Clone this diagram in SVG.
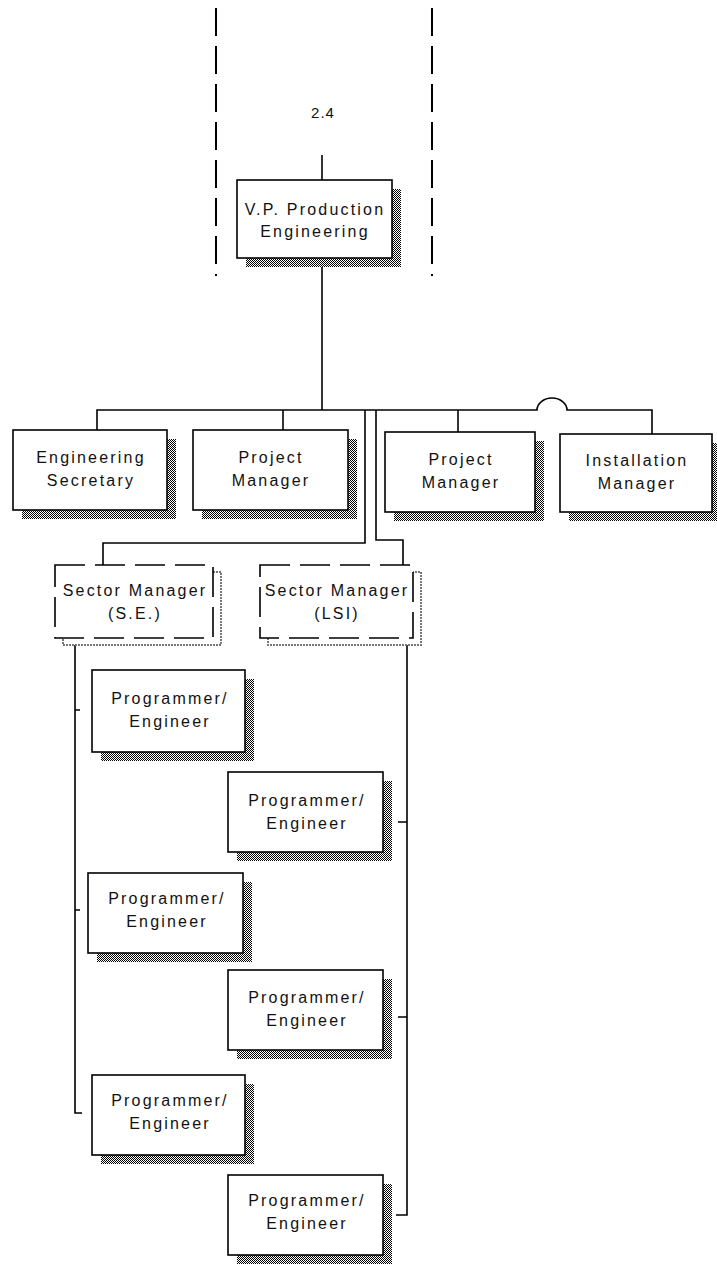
<svg xmlns="http://www.w3.org/2000/svg" width="717" height="1266" viewBox="0 0 717 1266">
<defs>
<pattern id="dither" width="2" height="2" patternUnits="userSpaceOnUse">
<rect width="2" height="2" fill="#ffffff"/>
<rect x="0" y="0" width="1" height="1" fill="#000"/>
<rect x="1" y="1" width="1" height="1" fill="#000"/>
</pattern>
<style>
.box{fill:#fff;stroke:#000;stroke-width:1.6}
.shadow{fill:url(#dither);stroke:none}
.dbox{fill:#fff;stroke:#000;stroke-width:1.6;stroke-dasharray:30 10}
.dshadow{fill:#fff;stroke:#777;stroke-width:2;stroke-dasharray:2 1}
.lbl{font-family:"Liberation Sans",Arial,sans-serif;font-size:16px;letter-spacing:2.2px;fill:#111;text-anchor:middle}
.conn{fill:none;stroke:#000;stroke-width:1.6}
.bound{fill:none;stroke:#000;stroke-width:2;stroke-dasharray:28 10}
</style>
</defs>
<rect width="717" height="1266" fill="#fff"/>

<g id="boundary">
<line class="bound" x1="216" y1="8" x2="216" y2="276"/>
<line class="bound" x1="432" y1="8" x2="432" y2="276"/>
<text class="lbl" x="323" y="118" style="font-size:15px;letter-spacing:1px">2.4</text>
</g>

<g id="connectors">
<path class="conn" d="M322 155 V180"/>
<path class="conn" d="M322 266 V410"/>
<path class="conn" d="M97 430 V410 H537 A15 12 0 0 1 567 410 H652 V434"/>
<path class="conn" d="M283 410 V430"/>
<path class="conn" d="M458 410 V432"/>
<path class="conn" d="M365 410 V543 H103 V565"/>
<path class="conn" d="M376 410 V540 H403 V565"/>
<path class="conn" d="M75 645 V1113 H82"/>
<path class="conn" d="M75 710 H80 M75 910 H80"/>
<path class="conn" d="M407 645 V1215 H396"/>
<path class="conn" d="M407 822 H398 M407 1017 H398"/>
</g>

<g id="vp">
<rect class="shadow" x="246" y="189" width="155" height="78"/>
<rect class="box" x="237" y="180" width="155" height="78"/>
<text class="lbl" x="315" y="215">V.P. Production</text>
<text class="lbl" x="315" y="237">Engineering</text>
</g>

<g id="eng-sec">
<rect class="shadow" x="22" y="439" width="154" height="80"/>
<rect class="box" x="13" y="430" width="154" height="80"/>
<text class="lbl" x="91" y="463">Engineering</text>
<text class="lbl" x="91" y="486">Secretary</text>
</g>

<g id="pm1">
<rect class="shadow" x="202" y="439" width="155" height="80"/>
<rect class="box" x="193" y="430" width="155" height="80"/>
<text class="lbl" x="271" y="463">Project</text>
<text class="lbl" x="271" y="486">Manager</text>
</g>

<g id="pm2">
<rect class="shadow" x="394" y="441" width="150" height="80"/>
<rect class="box" x="385" y="432" width="150" height="80"/>
<text class="lbl" x="461" y="465">Project</text>
<text class="lbl" x="461" y="488">Manager</text>
</g>

<g id="install">
<rect class="shadow" x="569" y="443" width="148" height="78"/>
<rect class="box" x="560" y="434" width="152" height="78"/>
<text class="lbl" x="637" y="466">Installation</text>
<text class="lbl" x="637" y="489">Manager</text>
</g>

<g id="sector-se">
<rect class="dshadow" x="63" y="572" width="158" height="73"/>
<rect class="dbox" x="55" y="565" width="158" height="73"/>
<text class="lbl" x="135" y="596">Sector Manager</text>
<text class="lbl" x="135" y="619">(S.E.)</text>
</g>

<g id="sector-lsi">
<rect class="dshadow" x="268" y="572" width="153" height="73"/>
<rect class="dbox" x="260" y="565" width="153" height="73"/>
<text class="lbl" x="337" y="596">Sector Manager</text>
<text class="lbl" x="337" y="619">(LSI)</text>
</g>

<g id="prog1">
<rect class="shadow" x="101" y="679" width="153" height="82"/>
<rect class="box" x="92" y="670" width="153" height="82"/>
<text class="lbl" x="170" y="704">Programmer/</text>
<text class="lbl" x="170" y="727">Engineer</text>
</g>

<g id="prog2">
<rect class="shadow" x="237" y="781" width="155" height="80"/>
<rect class="box" x="228" y="772" width="155" height="80"/>
<text class="lbl" x="307" y="806">Programmer/</text>
<text class="lbl" x="307" y="829">Engineer</text>
</g>

<g id="prog3">
<rect class="shadow" x="97" y="882" width="155" height="80"/>
<rect class="box" x="88" y="873" width="155" height="80"/>
<text class="lbl" x="167" y="904">Programmer/</text>
<text class="lbl" x="167" y="927">Engineer</text>
</g>

<g id="prog4">
<rect class="shadow" x="237" y="979" width="155" height="80"/>
<rect class="box" x="228" y="970" width="155" height="80"/>
<text class="lbl" x="307" y="1003">Programmer/</text>
<text class="lbl" x="307" y="1026">Engineer</text>
</g>

<g id="prog5">
<rect class="shadow" x="101" y="1084" width="153" height="80"/>
<rect class="box" x="92" y="1075" width="153" height="80"/>
<text class="lbl" x="170" y="1106">Programmer/</text>
<text class="lbl" x="170" y="1129">Engineer</text>
</g>

<g id="prog6">
<rect class="shadow" x="237" y="1184" width="155" height="80"/>
<rect class="box" x="228" y="1175" width="155" height="80"/>
<text class="lbl" x="307" y="1206">Programmer/</text>
<text class="lbl" x="307" y="1229">Engineer</text>
</g>
</svg>
